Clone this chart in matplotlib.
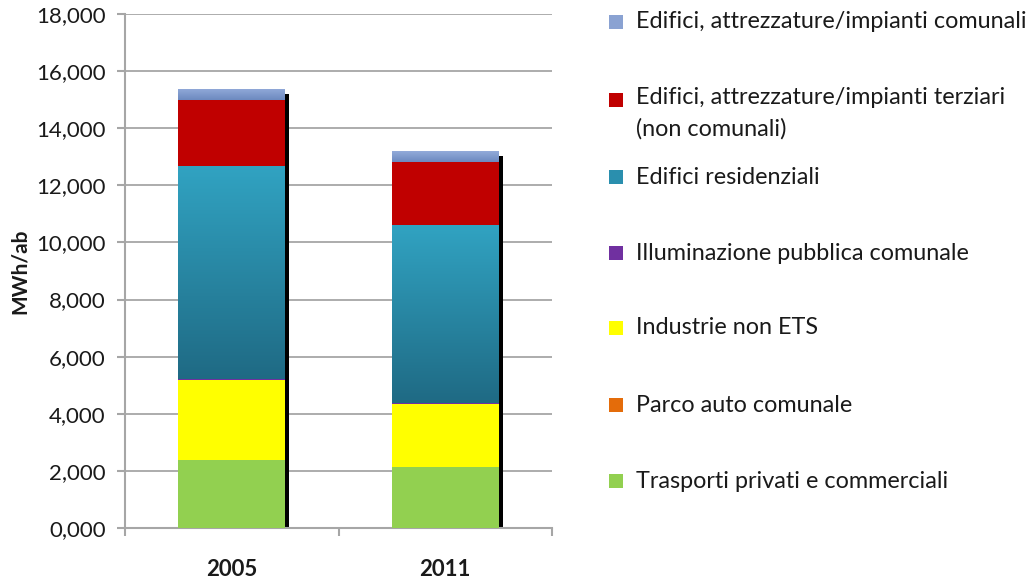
import matplotlib
matplotlib.use('Agg')
import matplotlib.pyplot as plt
import numpy as np
from matplotlib.colors import LinearSegmentedColormap
from matplotlib.transforms import ScaledTranslation
from matplotlib.patches import Rectangle

years = ['2005', '2011']
# stacked bottom -> top
trasporti = [2.382, 2.137]
parco_auto = [0.005, 0.005]
industrie = [2.800, 2.206]
illuminazione = [0.030, 0.030]
residenziali = [7.463, 6.235]
terziari = [2.311, 2.207]
comunali = [0.386, 0.385]

labels = ['Trasporti privati e commerciali', 'Parco auto comunale', 'Industrie non ETS',
          'Illuminazione pubblica comunale', 'Edifici residenziali',
          'Edifici, attrezzature/impianti terziari\n(non comunali)',
          'Edifici, attrezzature/impianti comunali']
series = [trasporti, parco_auto, industrie, illuminazione, residenziali, terziari, comunali]
colors = ['#92D050', '#E46C0A', '#FFFF00', '#7030A0', '#2A8FAE', '#C00000', '#8AA2D2']
grads = {4: ('#31A3C2', '#1F6A84'), 6: ('#93ABDA', '#6C89BF')}

yticks = [0, 2, 4, 6, 8, 10, 12, 14, 16, 18]

plt.rcParams['font.family'] = ['Lato', 'DejaVu Sans']
fig = plt.figure(figsize=(10.35, 5.82), dpi=100)
ax = fig.add_axes([125/1035, 1-528/582, (552-125)/1035, (528-14)/582])

x = np.arange(len(years))
width = 0.5
totals = np.sum(np.array(series), axis=0)

# shadow
shadow_tr = ax.transData + ScaledTranslation(4/100, -2/100, fig.dpi_scale_trans)
ax.bar(x, totals - 0.12, width, color='black', transform=shadow_tr, zorder=2)

bottom = np.zeros(len(years))
for i, (vals, c) in enumerate(zip(series, colors)):
    bars = ax.bar(x, vals, width, bottom=bottom, color=c, zorder=3, linewidth=0)
    if i in grads:
        cmap = LinearSegmentedColormap.from_list('g', [grads[i][1], grads[i][0]])
        for b in bars:
            bx, by = b.get_x(), b.get_y()
            bw, bh = b.get_width(), b.get_height()
            grad = np.linspace(0, 1, 256).reshape(-1, 1)
            im = ax.imshow(grad, cmap=cmap, origin='lower', aspect='auto',
                           extent=[bx, bx + bw, by, by + bh], zorder=3.5)
            im.set_clip_path(b)
    bottom += np.array(vals)

ax.set_xlim(-0.5, 1.5)
ax.set_ylim(0, 18)
ax.set_yticks(yticks)
ax.set_yticklabels([f"{v:.3f}".replace('.', ',') for v in yticks], fontsize=16, color='#1a1a1a')
ax.set_xticks(x)
ax.set_xticklabels(years, fontsize=16, fontweight='bold', color='#1a1a1a')
ax.set_xticks([-0.5, 0.5, 1.5], minor=True)
ax.tick_params(axis='x', which='major', length=0, pad=22)
ax.tick_params(axis='x', which='minor', length=6, color='#A6A6A6', width=1.5)
ax.tick_params(axis='y', length=6, color='#A6A6A6', width=1.5, pad=8)
ax.yaxis.grid(True, color='#A6A6A6', linewidth=1.3, zorder=0)
ax.set_axisbelow(True)
for s in ['top', 'right']:
    ax.spines[s].set_visible(False)
for s in ['left', 'bottom']:
    ax.spines[s].set_color('#A6A6A6')
    ax.spines[s].set_linewidth(1.5)
ax.set_ylabel('MWh/ab', fontsize=15, fontweight='bold', color='#1a1a1a', labelpad=4)

# legend (top to bottom)
leg_y = [22, 100, 177, 253, 328, 405, 481]
order = [6, 5, 4, 3, 2, 1, 0]
for yy, idx in zip(leg_y, order):
    fig.patches.append(Rectangle((609/1035, 1-(yy+7)/582), 14/1035, 14/582,
                                 transform=fig.transFigure, facecolor=colors[idx],
                                 edgecolor='none'))
    if '\n' in labels[idx]:
        fig.text(636/1035, 1-(yy-13)/582, labels[idx], fontsize=16.8, va='top', ha='left',
                 color='#1a1a1a', linespacing=1.6)
    else:
        fig.text(636/1035, 1-yy/582, labels[idx], fontsize=16.8, va='center', ha='left',
                 color='#1a1a1a')

fig.savefig('out.png', dpi=100)
